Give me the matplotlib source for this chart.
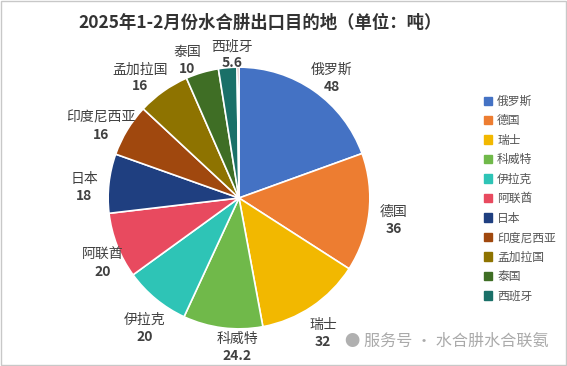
import numpy as np
import matplotlib.pyplot as plt
from matplotlib.patches import Rectangle

plt.rcParams['font.family'] = ['Noto Sans CJK SC', 'DejaVu Sans']

# 数据
paises = ['俄罗斯', '德国', '瑞士', '科威特', '伊拉克', '阿联酋', '日本',
          '印度尼西亚', '孟加拉国', '泰国', '西班牙']
toneladas = [48, 36, 32, 24.2, 20, 20, 18, 16, 16, 10, 5.6]
otros = 0.6  # sliver sin etiqueta
colores = ['#4472C4', '#ED7D31', '#F2B800', '#70B94A', '#2EC4B6', '#E84A5F',
           '#1F3F80', '#A0480E', '#8E7300', '#3F6E25', '#1A7068', '#8B1A1A']

fig = plt.figure(figsize=(5.67, 3.66), dpi=100)
ax = fig.add_axes([0.133, 0.012, 0.577, 0.894])

valores = toneladas + [otros]
wedges, _ = ax.pie(valores, colors=colores, startangle=90, counterclock=False,
                   wedgeprops=dict(edgecolor='white', linewidth=1.2))
ax.set_aspect('equal')

# ajustes de etiquetas (desplazamiento en unidades del radio)
ajustes = {0: (0.05, -0.03), 1: (0.04, -0.04), 2: (0, -0.08), 3: (0.13, 0.0),
           4: (0.01, -0.11), 5: (0.03, -0.08), 6: (-0.04, -0.05), 7: (-0.07, -0.05),
           8: (-0.09, -0.02), 9: (-0.07, -0.05), 10: (0.05, -0.05)}

for i, (w, nombre, v) in enumerate(zip(wedges, paises, toneladas)):
    ang = np.deg2rad((w.theta1 + w.theta2) / 2)
    r = 1.15
    dx, dy = ajustes.get(i, (0, 0))
    x, y = r * np.cos(ang) + dx, r * np.sin(ang) + dy
    ax.text(x, y + 0.065, nombre, ha='center', va='center', fontsize=10, color='#404040')
    ax.text(x, y - 0.065, f"{v:g}", ha='center', va='center', fontsize=10,
            fontweight='bold', color='#404040')

fig.text(0.459, 0.937, '2025年1-2月份水合肼出口目的地（单位：吨）', ha='center',
         va='center', fontsize=12.5, fontweight='bold', color='#333333')

handles = [Rectangle((0, 0), 1, 1, color=c) for c in colores[:11]]
fig.legend(handles, paises, loc='center left', bbox_to_anchor=(0.835, 0.457),
           frameon=False, fontsize=8.5, handlelength=0.7, handleheight=0.7,
           handletextpad=0.4, labelspacing=0.55, labelcolor='#555555')

fig.text(0.62, 0.068, '●', ha='center', va='center', fontsize=11, color='#b0b0b0')
fig.text(0.967, 0.068, '服务号 · 水合肼水合联氨', ha='right', va='center',
         fontsize=11.6, color='#aaaaaa')

fig.patches.append(Rectangle((0.002, 0.003), 0.996, 0.994, transform=fig.transFigure,
                             fill=False, edgecolor='#c8c8c8', linewidth=1))

plt.savefig('out.png', dpi=100)
